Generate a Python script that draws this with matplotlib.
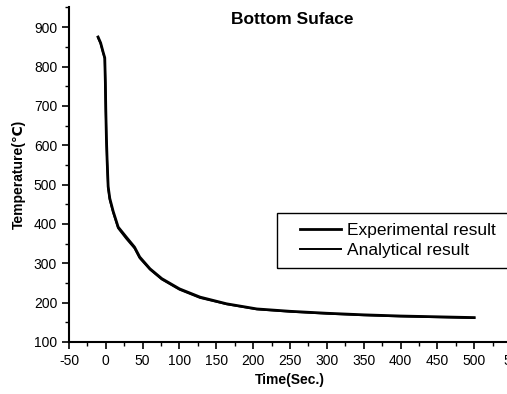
import matplotlib.pyplot as plt
from matplotlib.patches import Rectangle

plt.rcParams['font.family'] = ['Liberation Sans', 'DejaVu Sans']

# ---------------------------------------------------------
# Data
# ---------------------------------------------------------
exp_time = [-10.5, -7, -3.7, -1.4, -0.6, 0, 0.8, 1.8, 3.2, 5.4, 10, 16.8, 28,
            39, 46, 60, 76, 100, 128, 164, 205, 250, 300, 350, 400, 450, 500]
exp_temp = [875, 860, 837, 822, 760, 690, 620, 562, 495, 465, 432, 392, 366,
            341, 316, 286, 261, 235, 214, 197, 184, 178, 173, 169, 166, 164, 162]

ana_time = [-10.5, -7, -3.7, -1.4, -0.6, 0, 0.8, 1.8, 3.2, 5.4, 10, 16.8, 28,
            39, 46, 60, 76, 100, 128, 164, 205, 250, 300, 350, 400, 450, 500]
ana_temp = [873, 858, 835, 820, 755, 686, 616, 558, 491, 461, 429, 389, 362,
            338, 313, 284, 259, 233, 212, 196, 183, 177, 172, 168, 165, 163, 161]

x_ticks = [-50, 0, 50, 100, 150, 200, 250, 300, 350, 400, 450, 500, 550]
y_ticks = [100, 200, 300, 400, 500, 600, 700, 800, 900]

fig = plt.figure(figsize=(5.07, 3.94), dpi=100)
ax = fig.add_axes([0.136, 0.132, 0.872, 0.849])

ax.plot(exp_time, exp_temp, color='black', lw=2.0, label='Experimental result')
ax.plot(ana_time, ana_temp, color='black', lw=1.4, label='Analytical result')

ax.set_xlim(-50, 550)
ax.set_ylim(100, 950)
ax.set_xticks(x_ticks)
ax.set_xticklabels(['-50', '0', '50', '100', '150', '200', '250', '300',
                    '350', '400', '450', '500', '55'])
ax.set_yticks(y_ticks)
ax.set_xticks([t + 25 for t in x_ticks[:-1]], minor=True)
ax.set_yticks([t + 50 for t in y_ticks], minor=True)
ax.tick_params(which='major', direction='out', length=5, width=1.2, labelsize=10)
ax.tick_params(which='minor', direction='out', length=3, width=1.0)

ax.spines['top'].set_visible(False)
ax.spines['right'].set_visible(False)
ax.spines['left'].set_linewidth(1.5)
ax.spines['bottom'].set_linewidth(1.5)

ax.set_xlabel('Time(Sec.)', fontsize=10, fontweight='bold', labelpad=4)
ax.set_ylabel('Temperature(℃)', fontsize=10, fontweight='bold', labelpad=6)
ax.text(0.505, 0.965, 'Bottom Suface', transform=ax.transAxes, ha='center',
        va='center', fontsize=12.5, fontweight='bold')

# legend box drawn by hand so it runs off the right edge like the original
ax.add_patch(Rectangle((0.47, 0.221), 0.6, 0.164, transform=ax.transAxes,
                       fill=False, edgecolor='black', lw=1.0, clip_on=False))
ax.legend(loc='center left', bbox_to_anchor=(0.523, 0.303), fontsize=12.5,
          frameon=False, handlelength=2.36, handletextpad=0.35, borderpad=0,
          labelspacing=0.3, borderaxespad=0)

fig.savefig('out.png', dpi=100)
